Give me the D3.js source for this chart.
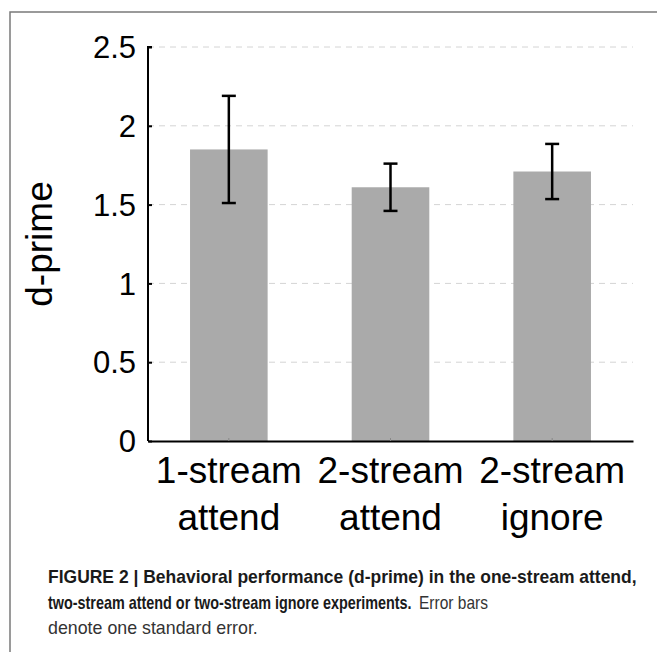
<!DOCTYPE html>
<html>
<head>
<meta charset="utf-8">
<script src="https://cdn.jsdelivr.net/npm/d3@7"></script>
<style>
  body { margin: 0; background: #fff; }
  svg { display: block; }
</style>
</head>
<body>
<div id="graphic"></div>
<script>
// chart values
var categories = ["1-stream attend", "2-stream attend", "2-stream ignore"];
var dprime = [1.85, 1.61, 1.71];
var stdErr = [0.34, 0.15, 0.175];
var yTicks = [0, 0.5, 1, 1.5, 2, 2.5];
var captionBold1 = "FIGURE 2 | Behavioral performance (d-prime) in the one-stream attend,";
var captionBold2 = "two-stream attend or two-stream ignore experiments.";
var captionRest2 = "Error bars";
var captionLine3 = "denote one standard error.";

var data = categories.map(function(c, i) {
   return {name: c, value: dprime[i], se: stdErr[i]};
});

var W = 657, H = 652;
var margin = {top: 47, right: 24, bottom: 211, left: 148};

var svg = d3.select("#graphic").append("svg")
   .attr("width", W)
   .attr("height", H);

// grey frame around the figure (open at the right and bottom)
svg.append("rect")
   .attr("x", 10).attr("y", 12)
   .attr("width", 700).attr("height", 700)
   .attr("fill", "none")
   .attr("stroke", "#7a7a7a")
   .attr("stroke-width", 1.5);

// set the ranges
var y = d3.scaleLinear()
   .domain([0, 2.5])
   .range([H - margin.bottom, margin.top]);

var x = d3.scaleBand()
   .domain(categories)
   .range([margin.left, W - margin.right])
   .paddingInner(0.52)
   .paddingOuter(0.26);

// dashed grid lines
svg.append("g")
   .selectAll("line")
   .data(yTicks.filter(function(d) { return d > 0; }))
   .enter().append("line")
   .attr("x1", margin.left)
   .attr("x2", W - margin.right)
   .attr("y1", function(d) { return y(d); })
   .attr("y2", function(d) { return y(d); })
   .attr("stroke", "#d4d4d4")
   .attr("stroke-width", 1)
   .attr("stroke-dasharray", "6,5");

// bars
svg.selectAll(".bar")
   .data(data)
   .enter().append("rect")
   .attr("class", "bar")
   .attr("fill", "#aaaaaa")
   .attr("x", function(d) { return x(d.name); })
   .attr("width", x.bandwidth())
   .attr("y", function(d) { return y(d.value); })
   .attr("height", function(d) { return y(0) - y(d.value); });

// error bars
var err = svg.append("g")
   .attr("stroke", "#000")
   .attr("stroke-width", 2.5)
   .selectAll("g")
   .data(data)
   .enter().append("g");

err.append("line")
   .attr("x1", function(d) { return x(d.name) + x.bandwidth() / 2; })
   .attr("x2", function(d) { return x(d.name) + x.bandwidth() / 2; })
   .attr("y1", function(d) { return y(d.value - d.se); })
   .attr("y2", function(d) { return y(d.value + d.se); });

[-1, 1].forEach(function(s) {
   err.append("line")
      .attr("x1", function(d) { return x(d.name) + x.bandwidth() / 2 - 7; })
      .attr("x2", function(d) { return x(d.name) + x.bandwidth() / 2 + 7; })
      .attr("y1", function(d) { return y(d.value + s * d.se); })
      .attr("y2", function(d) { return y(d.value + s * d.se); });
});

// y axis
var yAxis = svg.append("g")
   .attr("transform", "translate(" + margin.left + ",0)")
   .call(d3.axisRight(y).tickValues(yTicks).tickSize(4).tickFormat(""));
yAxis.select(".domain").attr("d", "M4," + y(2.5) + "H0V" + y(0));
yAxis.selectAll("path, line").attr("stroke", "#000").attr("stroke-width", 2);

svg.append("g")
   .selectAll("text")
   .data(yTicks)
   .enter().append("text")
   .attr("x", margin.left - 12)
   .attr("y", function(d) { return y(d); })
   .attr("dy", "0.36em")
   .attr("text-anchor", "end")
   .style("font-family", "'Liberation Sans', Arial, sans-serif")
   .style("font-size", "31px")
   .text(function(d) { return d3.format("")(d); });

// x axis
var xAxis = svg.append("g")
   .attr("transform", "translate(0," + y(0) + ")")
   .call(d3.axisTop(x).tickSize(3).tickSizeOuter(0).tickFormat(""));
xAxis.selectAll("path").attr("stroke", "#000").attr("stroke-width", 2);
xAxis.selectAll("line").attr("stroke", "#888").attr("stroke-width", 1);

var xl = svg.append("g")
   .selectAll("text")
   .data(categories)
   .enter().append("text")
   .attr("text-anchor", "middle")
   .style("font-family", "'Liberation Sans', Arial, sans-serif")
   .style("font-size", "37px");

xl.append("tspan")
   .attr("x", function(d) { return x(d) + x.bandwidth() / 2; })
   .attr("y", 483)
   .text(function(d) { return d.split(" ")[0]; });
xl.append("tspan")
   .attr("x", function(d) { return x(d) + x.bandwidth() / 2; })
   .attr("y", 530)
   .text(function(d) { return d.split(" ")[1]; });

// y axis title
svg.append("text")
   .attr("transform", "translate(52," + (margin.top + y(0)) / 2 + ") rotate(-90)")
   .attr("text-anchor", "middle")
   .style("font-family", "'Liberation Sans', Arial, sans-serif")
   .style("font-size", "37px")
   .text("d-prime");

// caption: squeeze each line horizontally to the condensed widths of the original
var cap = svg.append("g")
   .style("font-family", "'Liberation Sans Narrow', 'Arial Narrow', 'Liberation Sans', Arial, sans-serif")
   .style("font-size", "18px")
   .attr("fill", "#1a1a1a");

function capLine(str, x0, y0, width, bold, fill) {
   var t = cap.append("text")
      .attr("font-weight", bold ? "bold" : "normal")
      .attr("fill", fill || "#1a1a1a")
      .text(str);
   var w = t.node().getComputedTextLength();
   t.attr("transform", "translate(" + x0 + "," + y0 + ") scale(" + (width / w) + ",1)");
}

capLine(captionBold1, 48, 583, 589, true);
capLine(captionBold2, 48, 609, 364, true);
capLine(captionRest2, 419, 609, 69, false, "#333");
capLine(captionLine3, 48, 634, 210, false, "#333");
</script>
</body>
</html>
